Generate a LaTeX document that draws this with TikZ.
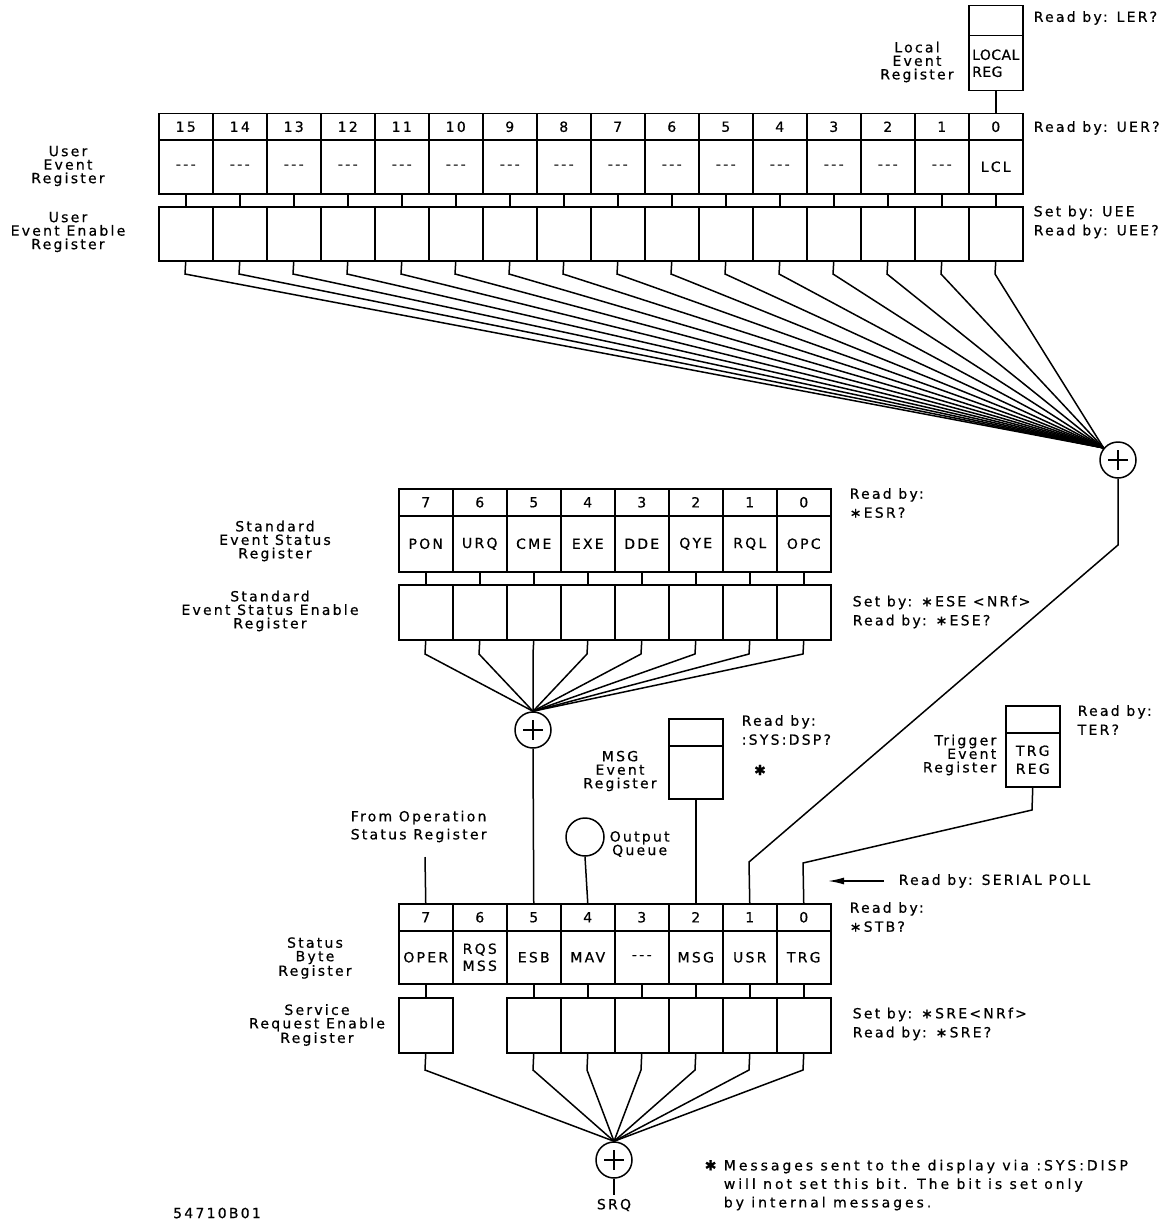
\documentclass[tikz,border=0pt]{standalone}
\usepackage{fontspec}
\setmainfont{DejaVu Sans}[LetterSpace=16,FakeBold=0.6]
\usetikzlibrary{arrows.meta}
\newcommand\nobit{-\,-\,-}

\begin{document}
\begin{tikzpicture}[x=1pt,y=-1pt,line width=1.5pt,
  every node/.style={font=\fontsize{14}{13.5}\selectfont,inner sep=0pt},
  cell/.style={draw,anchor=north west,minimum width=54pt,minimum height=#1,align=center},
  sumc/.style={draw,circle,minimum size=36pt,path picture={
    \draw ([xshift=-10pt]path picture bounding box.center) -- ([xshift=10pt]path picture bounding box.center);
    \draw ([yshift=-10pt]path picture bounding box.center) -- ([yshift=10pt]path picture bounding box.center);}},
  lbl/.style={align=center},
  rd/.style={anchor=west,align=left,font=\fontsize{14}{19}\selectfont}]

  \useasboundingbox (0,0) rectangle (1167,1220);

  % Summing points
  \node[sumc] (sum1) at (1118,460) {};
  \node[sumc] (sum2) at (533,730) {};
  \node[sumc] (sum3) at (614,1160) {};

  % User event register and its enable register
  \foreach \b/\t [count=\c from 0] in {15/\nobit,14/\nobit,13/\nobit,12/\nobit,11/\nobit,10/\nobit,9/\nobit,8/\nobit,7/\nobit,6/\nobit,5/\nobit,4/\nobit,3/\nobit,2/\nobit,1/\nobit,0/LCL} {
    \node[cell=26pt] (un\b) at (158+54*\c,113) {\b};
    \node[cell=54pt] (u\b) at (158+54*\c,139) {\t};
    \node[cell=54pt] (ue\b) at (158+54*\c,206) {};
    \coordinate (uf\b) at (185+54*\c,274);
    \draw (u\b.south) -- (ue\b.north);
    \draw (ue\b.south) -- (uf\b) -- (sum1.140);
  }

  % Local event register
  \node[cell=30pt] (lert) at (968,5) {};
  \node[cell=55pt,align=left,font=\fontsize{14}{17}\selectfont\addfontfeature{LetterSpace=3}] (ler) at (968,35) {LOCAL\\REG};
  \draw (ler.south) -- (un0.north);

  % Standard event status register and its enable register
  \foreach \b/\t [count=\c from 0] in {7/PON,6/URQ,5/CME,4/EXE,3/DDE,2/QYE,1/RQL,0/OPC} {
    \node[cell=27pt] (en\b) at (398+54*\c,488) {\b};
    \node[cell=56pt] (e\b) at (398+54*\c,515) {\t};
    \node[cell=55pt] (ee\b) at (398+54*\c,584) {};
    \coordinate (ef\b) at (425+54*\c,654);
    \draw (e\b.south) -- (ee\b.north);
    \draw (ee\b.south) -- (ef\b) -- (sum2.north);
  }

  % Status byte register and service request enable register
  \foreach \b/\t [count=\c from 0] in {7/OPER,6/{RQS\\MSS},5/ESB,4/MAV,3/\nobit,2/MSG,1/USR,0/TRG} {
    \node[cell=27pt] (sn\b) at (398+54*\c,903) {\b};
    \node[cell=53pt,font=\fontsize{14}{17}\selectfont] (s\b) at (398+54*\c,930) {\t};
    \ifnum\b=6 \else
      \node[cell=55pt] (se\b) at (398+54*\c,997) {};
      \coordinate (sf\b) at (425+54*\c,1070);
      \draw (s\b.south) -- (se\b.north);
      \draw (se\b.south) -- (sf\b) -- (sum3.north);
    \fi
  }

  % MSG and trigger event registers, output queue
  \node[cell=27pt] (msgt) at (668,718) {};
  \node[cell=53pt] (msg) at (668,745) {};
  \node[cell=27pt] (trgt) at (1005,705) {};
  \node[cell=54pt,font=\fontsize{14}{18}\selectfont] (trg) at (1005,732) {TRG\\REG};
  \node[draw,circle,minimum size=38pt] (oq) at (585,837) {};

  % Summary lines into the status byte
  \coordinate (ub1) at (1118,545);
  \coordinate (ub2) at (749,862);
  \coordinate (tb1) at (1032,810);
  \coordinate (tb2) at (803,863);
  \coordinate (opfrom) at (425,857);
  \draw (sum1.south) -- (ub1) -- (ub2) -- (sn1.north);
  \draw (trg.south) -- (tb1) -- (tb2) -- (sn0.north);
  \draw (sum2.south) -- (sn5.north);
  \draw (oq.south) -- (sn4.north);
  \draw (msg.south) -- (sn2.north);
  \draw (opfrom) -- (sn7.north);

  % Service request output
  \node (srq) at (614,1205) {SRQ};
  \draw[shorten >=3pt] (sum3.south) -- (srq.north);

  % Serial poll
  \node[anchor=west] (spoll) at (898,881) {Read by: SERIAL POLL};
  \coordinate (sptail) at (884,881);
  \coordinate (sptip) at (828,881);
  \draw[-{Latex[length=16pt,width=7pt]}] (sptail) -- (sptip);

  % Register names
  \node[lbl] (uerlbl) at (68,166) {User\\Event\\Register};
  \node[lbl] (ueelbl) at (68,232) {User\\Event Enable\\Register};
  \node[lbl] (lerlbl) at (917,62) {Local\\Event\\Register};
  \node[lbl] (esrlbl) at (275,541) {Standard\\Event Status\\Register};
  \node[lbl] (eselbl) at (270,611) {Standard\\Event Status Enable\\Register};
  \node[lbl] (msglbl) at (620,771) {MSG\\Event\\Register};
  \node[lbl,anchor=west] (oqlbl) at (609,844) {Output\\Queue};
  \node[align=right,anchor=east] (trglbl) at (997,755) {Trigger\\Event\\Register};
  \node[lbl] (sbrlbl) at (315,958) {Status\\Byte\\Register};
  \node[lbl] (srelbl) at (317,1025) {Service\\Request Enable\\Register};
  \node[anchor=south west,align=left,font=\fontsize{14}{18}\selectfont] (oplbl) at (350,843) {From Operation\\Status Register};

  % Read and set commands
  \node[rd] (lerrd) at (1033,18) {Read by: LER?};
  \node[rd] (uerrd) at (1033,128) {Read by: UER?};
  \node[rd] (ueerd) at (1033,222) {Set by: UEE\\Read by: UEE?};
  \node[rd] (esrrd) at (849,503) {Read by:\\∗ESR?};
  \node[rd] (eserd) at (852,612) {Set by: ∗ESE <NRf>\\Read by: ∗ESE?};
  \node[rd] (msgrd) at (741,730) {Read by:\\:SYS:DSP?};
  \node (msgstar) at (760,770) {✱};
  \node[rd] (terrd) at (1077,720) {Read by:\\TER?};
  \node[rd] (stbrd) at (849,917) {Read by:\\∗STB?};
  \node[rd] (srerd) at (852,1024) {Set by: ∗SRE<NRf>\\Read by: ∗SRE?};

  % Footnote and figure number
  \node[anchor=north west,align=left,font=\fontsize{14}{18.5}\selectfont\addfontfeature{LetterSpace=21}] (note) at (704,1159)
    {✱ Messages sent to the display via :SYS:DISP\\\phantom{✱ }will not set this bit. The bit is set only\\\phantom{✱ }by internal messages.};
  \node (figno) at (217,1213) {54710B01};
\end{tikzpicture}
\end{document}
